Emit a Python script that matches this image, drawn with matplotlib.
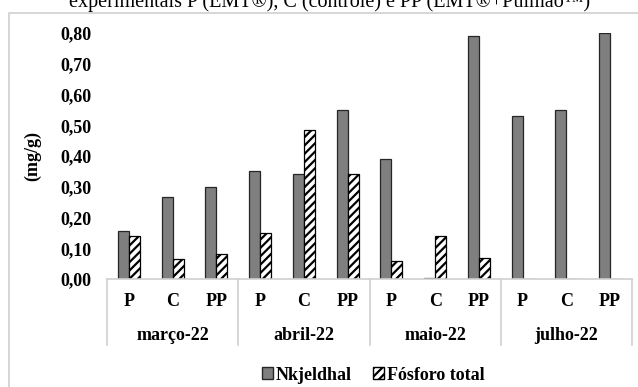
import numpy as np
import matplotlib.pyplot as plt
from matplotlib.patches import Rectangle, Patch
from matplotlib.lines import Line2D
import matplotlib.transforms as mtransforms

plt.rcParams['font.family'] = ['Liberation Serif', 'DejaVu Serif']
plt.rcParams['hatch.linewidth'] = 1.6

meses = ['março-22', 'abril-22', 'maio-22', 'julho-22']
tratamentos = ['P', 'C', 'PP']
nkjeldhal = [0.155, 0.267, 0.30,
             0.35, 0.34, 0.549,
             0.39, 0.003, 0.79,
             0.53, 0.55, 0.80]
fosforo = [0.14, 0.065, 0.081,
           0.15, 0.483, 0.34,
           0.06, 0.14, 0.067,
           0, 0, 0]
yticks = [0.0, 0.1, 0.2, 0.3, 0.4, 0.5, 0.6, 0.7, 0.8]

fs = 13

fig = plt.figure(figsize=(6.38, 3.87), dpi=100)

# moldura do grafico (cortada na imagem)
fig.patches.append(Rectangle((9/638, -0.2), 1.2, 1.2 - 13/387, transform=fig.transFigure,
                             fill=False, edgecolor='#d0d0d0', lw=1.2))

fig.text(0.517, 1 - 7/387, 'experimentais P (EMT®), C (controle) e PP (EMT®+Pulmão™)',
         ha='center', va='baseline', fontsize=14.5)

ax = fig.add_axes([107/638, 1 - 279/387, 525/638, 246/387])

n = len(nkjeldhal)
x = np.arange(n)
w = 0.25
ax.bar(x - w/2, nkjeldhal, w, color='#7f7f7f', edgecolor='#262626', lw=0.9)
ax.bar(x + w/2, fosforo, w, color='white', edgecolor='black', hatch='////', lw=0.9)

ax.set_xlim(-0.5, n - 0.5)
ax.set_ylim(0, 0.80)
ax.set_yticks(yticks)
ax.set_yticklabels(['{:.2f}'.format(v).replace('.', ',') for v in yticks],
                   fontsize=fs, fontweight='bold')
ax.tick_params(axis='y', length=0, pad=11)
ax.set_xticks([])
for s in ['left', 'right', 'top']:
    ax.spines[s].set_visible(False)
ax.spines['bottom'].set_color('#d0d0d0')
ax.spines['bottom'].set_linewidth(1.2)

ax.set_ylabel('(mg/g)', fontsize=fs, fontweight='bold', labelpad=14)

trans = mtransforms.blended_transform_factory(ax.transData, ax.transAxes)
for i in range(n):
    ax.text(x[i], -22/246, tratamentos[i % 3], transform=trans, ha='center', va='center',
            fontsize=fs, fontweight='bold')
for j, m in enumerate(meses):
    ax.text(3*j + 1, -56/246, m, transform=trans, ha='center', va='center',
            fontsize=fs, fontweight='bold')
for j in range(len(meses) + 1):
    ax.add_line(Line2D([3*j - 0.5, 3*j - 0.5], [0, -66/246], transform=trans,
                       color='#d0d0d0', lw=1.2, clip_on=False))

handles = [Patch(facecolor='#7f7f7f', edgecolor='#262626', label='Nkjeldhal'),
           Patch(facecolor='white', edgecolor='black', hatch='////', label='Fósforo total')]
fig.legend(handles=handles, loc='center', bbox_to_anchor=(373/638, 12/387), ncol=2,
           frameon=False, prop={'weight': 'bold', 'size': fs},
           handlelength=0.6, handleheight=0.6, handletextpad=0.15, columnspacing=1.2)

plt.savefig('out.png', dpi=100)
